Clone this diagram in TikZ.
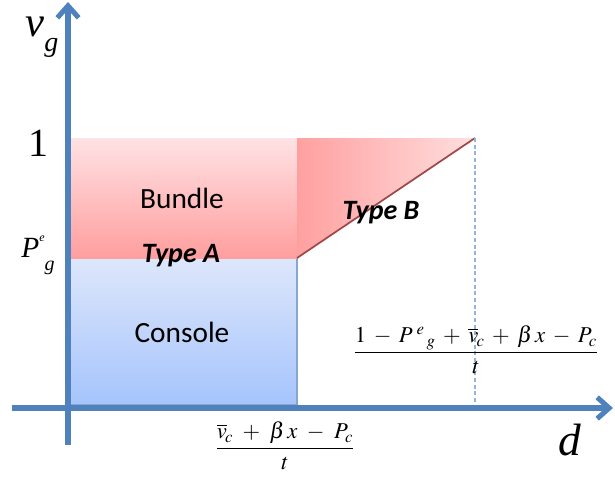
\documentclass[tikz,border=0pt]{standalone}
\usepackage{amsmath}
\usepackage{mathptmx}
\usepackage{fontspec}
\setmainfont{Liberation Serif}
\newfontfamily\calib{Carlito}
\usetikzlibrary{arrows.meta}
\definecolor{axisblue}{HTML}{4F81BD}
\definecolor{conTop}{HTML}{DDE7FB}
\definecolor{conBot}{HTML}{A6C4FC}
\definecolor{bunTop}{HTML}{FFE2E4}
\definecolor{bunBot}{HTML}{FF9E9E}
\definecolor{triL}{HTML}{FFA0A0}
\definecolor{triR}{HTML}{FFDEDE}
\definecolor{diagred}{HTML}{A04848}
\definecolor{dotblue}{HTML}{95B3D7}
\tikzset{
  axisline/.style={draw=axisblue, line width=3.8pt, -{Straight Barb[length=9pt,width=16pt,line width=3.8pt]}},
  boxlabel/.style={font=\calib\fontsize{22}{24}\selectfont, inner sep=0pt},
  typelabel/.style={font=\calib\bfseries\itshape\fontsize{21}{24}\selectfont, inner sep=0pt},
  fraclabel/.style={font=\fontsize{17}{20}\selectfont, inner sep=0pt},
}
\begin{document}
\begin{tikzpicture}[x=0.75pt,y=-0.75pt]
\useasboundingbox (0,0) rectangle (615,483);
% shadow of console box
\fill[black!12] (71,405) rectangle (299,410);
% console box
\shade[top color=conTop, bottom color=conBot] (69,258) rectangle (297,405);
\draw[draw=axisblue!70, line width=0.8pt] (69,258) rectangle (297,405);
% bundle box
\shade[top color=bunTop, bottom color=bunBot] (69,138) rectangle (297,258);
% type B triangle
\shade[left color=triL, right color=triR] (297,258) -- (297,138) -- (475,138) -- cycle;
\coordinate (cA) at (297,258);
\coordinate (cB) at (475,138);
\coordinate (cC) at (475,405);
\draw[diagred, line width=1.3pt] (cA) -- (cB);
\draw[dotblue, dashed, dash pattern=on 3pt off 2pt, line width=1pt] (cB) -- (cC);
% axes
\coordinate (yb) at (68,445);
\coordinate (yt) at (68,2);
\coordinate (xl) at (12,408);
\coordinate (xr) at (613,408);
\draw[axisline] (yb) -- (yt);
\draw[axisline] (xl) -- (xr);
% labels
\node[boxlabel] (bundle) at (182,198) {Bundle};
\node[typelabel] (typeA) at (181,256) {Type A};
\node[boxlabel] (console) at (182,332) {Console};
\node[typelabel] (typeB) at (381,213) {Type B};
\node[inner sep=0pt, font=\fontsize{30}{32}\selectfont] (one) at (38,143) {1};
\node[inner sep=0pt, font=\fontsize{22}{24}\selectfont\itshape] (peg) at (38,255) {P\raisebox{0.55em}{\fontsize{9}{10}\selectfont e}\raisebox{-0.45em}{\fontsize{15}{16}\selectfont g}};
\node[inner sep=0pt, font=\fontsize{32}{34}\selectfont\itshape] (vg) at (42,37) {v\raisebox{-0.35em}{\fontsize{21}{23}\selectfont g}};
\node[inner sep=0pt, font=\fontsize{34}{36}\selectfont\itshape] (d) at (570,440) {d};
\node[fraclabel] (frac1) at (476,350) {$\medmuskip=6mu\dfrac{1-P^{\;e}{}_{\,g}+\overline{v}_{\!c}+\beta\,x-P_c}{t}$};
\node[fraclabel] (frac2) at (285,446) {$\medmuskip=7.5mu\dfrac{\overline{v}_{\!c}+\beta\,x-P_c}{t}$};
\end{tikzpicture}
\end{document}
